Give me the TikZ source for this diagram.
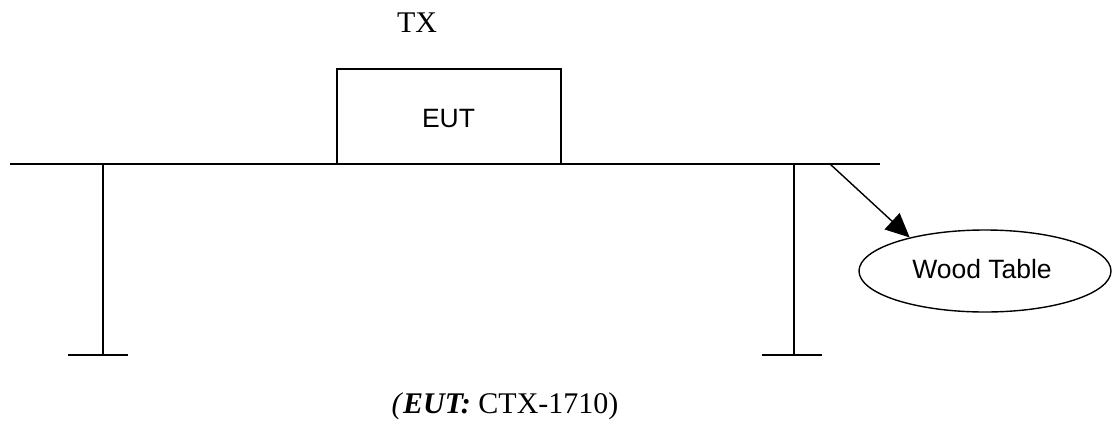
\documentclass[tikz,border=0pt]{standalone}
\usepackage{fontspec}
\setmainfont{Liberation Serif}
\newfontfamily\arialf{Liberation Sans}
\usetikzlibrary{arrows.meta,shapes.geometric}
\begin{document}
\begin{tikzpicture}[x=1pt,y=-1pt,
  thick line/.style={line width=1.4pt},
  sanslabel/.style={font=\arialf\fontsize{26.5}{30}\selectfont},
  seriflabel/.style={font=\fontsize{30}{36}\selectfont}]
\useasboundingbox (0,0) rectangle (1113,421);
% table top
\coordinate (tl) at (10,164);
\coordinate (tr) at (880,164);
\draw[thick line] (tl) -- (tr);
% legs
\coordinate (l1) at (103,164);
\coordinate (l2) at (103,355);
\coordinate (lf1) at (68,355);
\coordinate (lf2) at (128,355);
\coordinate (r1) at (794,164);
\coordinate (r2) at (794,355);
\coordinate (rf1) at (762,355);
\coordinate (rf2) at (822,355);
\draw[thick line] (l1) -- (l2) (lf1) -- (lf2);
\draw[thick line] (r1) -- (r2) (rf1) -- (rf2);
% EUT box
\node[draw,thick line,minimum width=224pt,minimum height=95pt,inner sep=0pt] (eut) at (449,116.5) {};
\node[sanslabel,inner sep=0pt,anchor=base] (eutlabel) at (448.5,127) {EUT};
% TX
\node[seriflabel,inner sep=0pt,anchor=base] (tx) at (417,32) {TX};
% Wood table ellipse
\node[draw,thick line,ellipse,minimum width=252pt,minimum height=82pt,inner sep=0pt] (wt) at (985,271) {};
\node[sanslabel,inner sep=0pt,anchor=base] (wtlabel) at (982,278) {Wood Table};
\coordinate (a0) at (830,164);
\draw[thick line,-{Triangle[length=24pt,width=22pt]}] (a0) -- (wt.156);
% caption
\node[seriflabel,inner sep=0pt,anchor=base] (cap) at (505,413) {\textit{(}\textbf{\textit{EUT:}} CTX-1710)};
\end{tikzpicture}
\end{document}
